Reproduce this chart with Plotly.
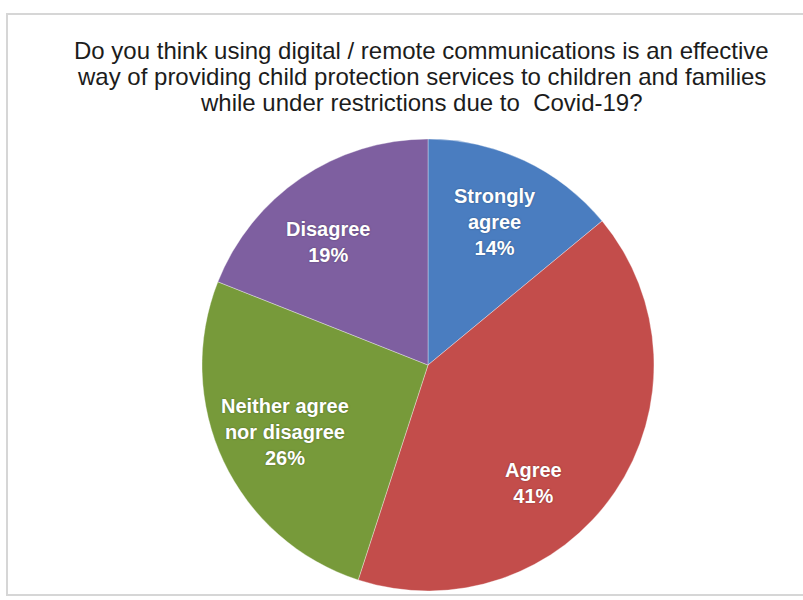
import math
import plotly.graph_objects as go

# Survey responses (share of respondents, %)
categories = ["Strongly<br>agree", "Agree", "Neither agree<br>nor disagree", "Disagree"]
shares = [14, 41, 26, 19]
slice_colors = ["#4A7DC0", "#C34D4B", "#779A3A", "#7E5FA0"]

title_lines = [
    "Do you think using digital / remote communications is an effective",
    "way of providing child protection services to children and families",
    "while under restrictions due to  Covid-19?",
]

W, H = 803, 600
cx, cy, r = 428, 365, 226  # pie centre and radius in pixels

fig = go.Figure(
    go.Pie(
        labels=categories,
        values=shares,
        sort=False,
        direction="clockwise",
        rotation=0,
        marker=dict(colors=slice_colors, line=dict(color="rgba(255,255,255,0.35)", width=1)),
        textinfo="none",
        hoverinfo="label+percent",
        showlegend=False,
        domain=dict(x=[(cx - r) / W, (cx + r) / W], y=[1 - (cy + r) / H, 1 - (cy - r) / H]),
    )
)

# Slice labels placed along each slice's mid-angle (clockwise from 12 o'clock)
label_radius = 0.70
label_angle_shift = [0, 14, 0, -5]  # small nudges in degrees to keep labels clear
total = sum(shares)
start = 0.0
for name, val, shift in zip(categories, shares, label_angle_shift):
    mid = (start + val / 2) / total * 360 + shift
    start += val
    px = cx + label_radius * r * math.sin(math.radians(mid))
    py = cy - label_radius * r * math.cos(math.radians(mid))
    fig.add_annotation(
        text=f"<b>{name}<br>{val}%</b>",
        xref="paper", yref="paper",
        x=px / W, y=1 - py / H,
        xanchor="center", yanchor="middle",
        showarrow=False, align="center",
        font=dict(family="Liberation Sans, Arial, sans-serif", size=20, color="white",
                  shadow="0px 0px 2px rgba(0,0,0,0.35)"),
    )

# Three-line question heading, one annotation per line
title_centres = [51, 77, 103]
for line, yc in zip(title_lines, title_centres):
    fig.add_annotation(
        text=line,
        xref="paper", yref="paper",
        x=421 / W, y=1 - yc / H,
        xanchor="center", yanchor="middle",
        showarrow=False,
        font=dict(family="Liberation Sans, Arial, sans-serif", size=24, color="#1c1c1c"),
    )

# light grey frame around the chart area
fig.add_shape(
    type="rect", xref="paper", yref="paper",
    x0=7 / W, x1=1.02, y0=1 - 595 / H, y1=1 - 14 / H,
    line=dict(color="#D6D6D6", width=2),
    fillcolor="rgba(0,0,0,0)",
)

fig.update_layout(
    width=W, height=H,
    margin=dict(l=0, r=0, t=0, b=0),
    paper_bgcolor="white",
    plot_bgcolor="white",
)

fig.write_html("out.html")
